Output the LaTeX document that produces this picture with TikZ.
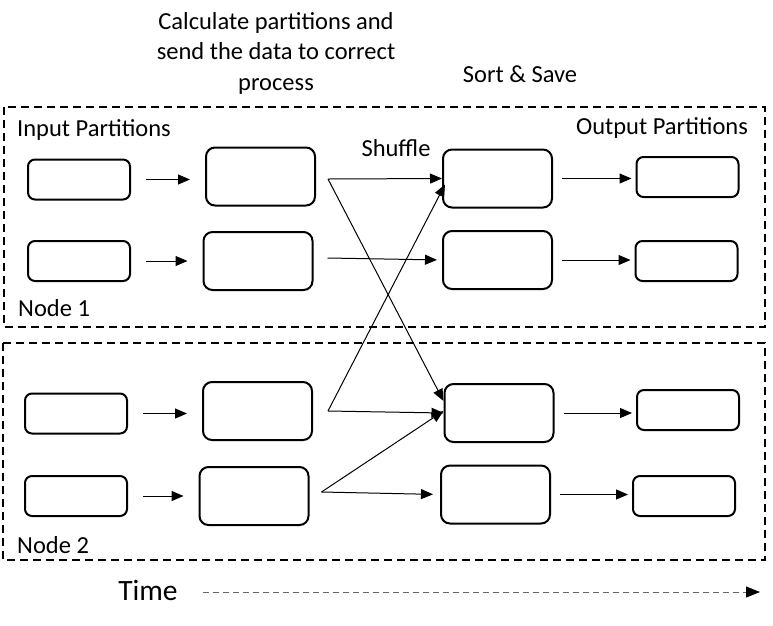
\documentclass[tikz,border=0pt]{standalone}
\usepackage{fontspec}
\setmainfont{Carlito}
\usetikzlibrary{arrows.meta,calc}

\tikzset{
  part/.style={draw,line width=2pt,rounded corners=7pt,minimum width=102pt,minimum height=40pt,inner sep=0pt},
  work/.style={draw,line width=2pt,rounded corners=9pt,minimum width=109pt,minimum height=58pt,inner sep=0pt},
  link/.style={line width=1pt,-{Triangle[length=12pt,width=10pt]}},
  nodebox/.style={draw,line width=2pt,dash pattern=on 8pt off 5pt},
  lbl/.style={font=\fontsize{24.5}{30.5}\selectfont,inner sep=0pt}
}

\begin{document}
\begin{tikzpicture}[x=1pt,y=-1pt]
      \useasboundingbox (0,0) rectangle (773,625);
      \draw[nodebox] (4,107) rectangle (765,327);
      \draw[nodebox] (3,343) rectangle (765,560);

      \node[lbl,align=center] (calc) at (276,53) {Calculate partitions and\\send the data to correct\\process};
      \node[lbl] (save) at (520,74) {Sort \& Save};
      \node[lbl] (shuffle) at (396,148) {Shuffle};
      \node[lbl,anchor=west] (inlbl) at (17,130) {Input Partitions};
      \node[lbl] (outlbl) at (662,128) {Output Partitions};
      \node[lbl,anchor=west] (node1) at (18,308) {Node 1};
      \node[lbl,anchor=west] (node2) at (17,545) {Node 2};

      \node[part] (in1) at (79,179.5) {};
      \node[part] (in2) at (79,261) {};
      \node[part] (in3) at (76,413.5) {};
      \node[part] (in4) at (76,496) {};
      \node[work] (mid1) at (260.5,176.5) {};
      \node[work] (mid2) at (258,261) {};
      \node[work] (mid3) at (257.5,411) {};
      \node[work] (mid4) at (254,496) {};
      \node[work] (sort1) at (497.5,178.5) {};
      \node[work] (sort2) at (497.5,260) {};
      \node[work] (sort3) at (499,413) {};
      \node[work] (sort4) at (495.5,494.5) {};
      \node[part] (out1) at (687.5,177) {};
      \node[part] (out2) at (686.5,261) {};
      \node[part] (out3) at (688,410) {};
      \node[part] (out4) at (684,496) {};

      \foreach \i in {1,...,4} {
        \draw[link,shorten <=15pt,shorten >=15pt] (in\i.east) -- (in\i.east -| mid\i.west);
        \draw[link,shorten <=9pt,shorten >=4pt] (sort\i.east) -- (sort\i.east -| out\i.west);
      }

      \coordinate (s1) at ($(mid1.east)+(12,2.5)$);
      \coordinate (s2) at ($(mid2.east)+(14,-3)$);
      \coordinate (s3) at ($(mid3.east)+(15,0)$);
      \coordinate (s4) at ($(mid4.east)+(12,-4)$);
      \draw[link] (s1) -- (sort1.west);
      \draw[link] (s1) -- ($(sort3.west)+(0,-12)$);
      \draw[link,shorten >=5pt] (s2) -- (sort2.west);
      \draw[link] (s3) -- (sort3.west);
      \draw[link] (s3) -- ($(sort1.west)+(3,6)$);
      \draw[link] (s4) -- ($(sort3.west)+(0,-2)$);
      \draw[link,shorten >=7pt] (s4) -- (sort4.west);

      \node[lbl,font=\fontsize{29.5}{32}\selectfont] (time) at (148,590) {Time};
      \coordinate (tend) at (760,592);
      \draw[gray!80!black,line width=1pt,dash pattern=on 6pt off 4pt,-{Triangle[length=14pt,width=11pt,color=black]}] ($(time.east)+(25,2)$) -- (tend);
    \end{tikzpicture}
\end{document}
